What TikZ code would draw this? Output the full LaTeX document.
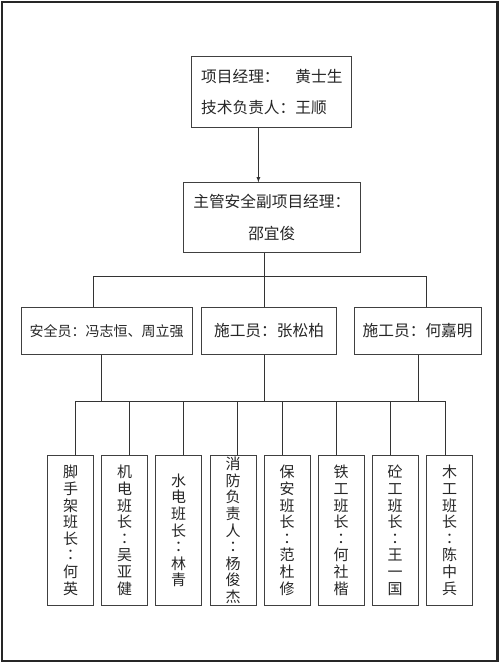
\documentclass[tikz,border=0pt]{standalone}
\usepackage{fontspec}
\setmainfont{Noto Sans CJK SC}
\newfontfamily\tcfont{Noto Sans CJK TC}
\usepackage{tikz}
\newcommand{\shumao}{{\tcfont ：}}

\begin{document}
\begin{tikzpicture}[x=1pt, y=-1pt, line width=0.8pt, black!80,
    kuang/.style={draw=black!75, inner sep=0pt, text=black!85},
    banzhang/.style={kuang, minimum width=45.7pt, minimum height=149.3pt, align=center, font=\fontsize{15}{16.6}\selectfont}]
    \useasboundingbox (0,0) rectangle (500,663);
    \draw[line width=2.2pt, black!85] (2,2) rectangle (497.5,661);
    % top two levels
    \node[kuang, minimum width=160pt, minimum height=70.6pt, align=left, font=\fontsize{15.7}{31.4}\selectfont] (jingli) at (271.8,92) {\makebox[6em][l]{项目经理：}黄士生\\技术负责人：王顺};
    \node[kuang, minimum width=176.3pt, minimum height=70pt, align=center, font=\fontsize{15.7}{31.7}\selectfont] (fujingli) at (271.8,217.7) {主管安全副项目经理：\\邵宜俊};
    \draw[-latex] ([xshift=-13.4pt]jingli.south) -- ([xshift=-13.4pt]fujingli.north);
    % middle row
    \node[kuang, minimum width=171.3pt, minimum height=47pt, font=\fontsize{14}{16}\selectfont] (anquan) at (106.65,330.8) {安全员：冯志恒、周立强};
    \node[kuang, minimum width=135.4pt, minimum height=47pt, font=\fontsize{15.7}{18}\selectfont] (shigong1) at (269,330.8) {施工员：张松柏};
    \node[kuang, minimum width=126.7pt, minimum height=47pt, font=\fontsize{15.7}{18}\selectfont] (shigong2) at (417.65,330.8) {施工员：何嘉明};
    \coordinate (bus1) at (264.3,276);
    \draw ([xshift=-7.5pt]fujingli.south) -- (bus1);
    \foreach \n/\d in {anquan/-13.3, shigong1/-4.7, shigong2/9.05}
        \draw ([xshift=\d pt]\n.north) |- (bus1);
    % bottom row
    \node[banzhang] (jiaoshou) at (70.5,530.35) {脚\\手\\架\\班\\长\\\shumao\\何\\英};
    \node[banzhang] (jidian) at (124.7,530.35) {机\\电\\班\\长\\\shumao\\吴\\亚\\健};
    \node[banzhang] (shuidian) at (178.65,530.35) {水\\电\\班\\长\\\shumao\\林\\青};
    \node[banzhang] (xiaofang) at (233.15,530.35) {消\\防\\负\\责\\人\\\shumao\\杨\\俊\\杰};
    \node[banzhang] (baoan) at (287.15,530.35) {保\\安\\班\\长\\\shumao\\范\\杜\\修};
    \node[banzhang] (tiegong) at (341.15,530.35) {铁\\工\\班\\长\\\shumao\\何\\社\\楷};
    \node[banzhang] (tonggong) at (395.2,530.35) {砼\\工\\班\\长\\\shumao\\王\\一\\国};
    \node[banzhang] (mugong) at (449.5,530.35) {木\\工\\班\\长\\\shumao\\陈\\中\\兵};
    \coordinate (bus2) at (264.3,401.7);
    \foreach \n/\d in {anquan/-4.95, shigong1/-4.7, shigong2/0.65}
        \draw ([xshift=\d pt]\n.south) |- (bus2);
    \foreach \n/\d in {jiaoshou/4.5, jidian/4.6, shuidian/4.65, xiaofang/4.55, baoan/-4.45, tiegong/-4.45, tonggong/-4.5, mugong/-4.5}
        \draw ([xshift=\d pt]\n.north) |- (bus2);
\end{tikzpicture}
\end{document}
